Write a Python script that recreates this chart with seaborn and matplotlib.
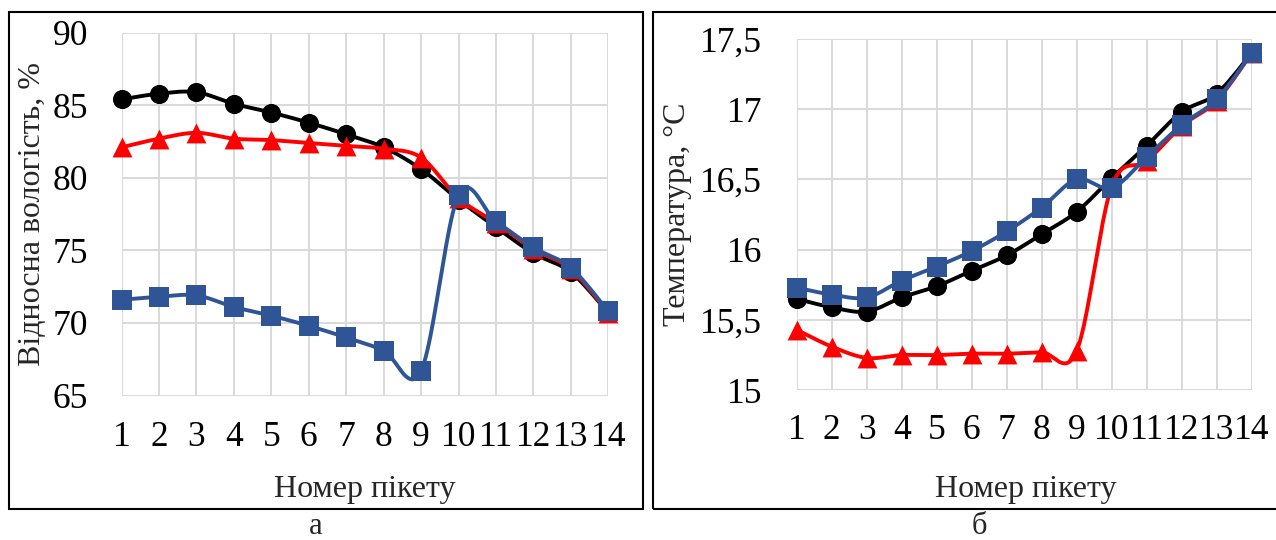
import numpy as np
import pandas as pd
import matplotlib
matplotlib.use("Agg")
import matplotlib.pyplot as plt
from matplotlib.patches import Rectangle
import seaborn as sns

# Picket numbers along the profile
pickets = list(range(1, 15))
x_ticklabels = [str(p) for p in pickets]

# Relative humidity, %
hum_black = [85.4, 85.8, 85.9, 85.1, 84.5, 83.8, 83.0, 82.1, 80.6, 78.5, 76.6, 74.8, 73.5, 70.7]
hum_red = [82.1, 82.7, 83.1, 82.7, 82.6, 82.4, 82.2, 82.0, 81.4, 78.6, 76.9, 75.1, 73.7, 70.7]
hum_blue = [71.6, 71.8, 71.9, 71.1, 70.5, 69.8, 69.0, 68.1, 66.7, 78.8, 77.0, 75.2, 73.8, 70.8]
hum_ticks = [65, 70, 75, 80, 85, 90]
hum_ticklabels = ["65", "70", "75", "80", "85", "90"]

# Temperature, °C
temp_black = [15.65, 15.59, 15.56, 15.66, 15.74, 15.85, 15.96, 16.11, 16.27, 16.51, 16.74, 16.98, 17.11, 17.40]
temp_red = [15.43, 15.31, 15.23, 15.25, 15.25, 15.26, 15.26, 15.27, 15.28, 16.45, 16.63, 16.88, 17.06, 17.40]
temp_blue = [15.73, 15.68, 15.66, 15.78, 15.88, 15.99, 16.13, 16.30, 16.50, 16.44, 16.66, 16.89, 17.07, 17.40]
temp_ticks = [15.0, 15.5, 16.0, 16.5, 17.0, 17.5]
temp_ticklabels = ["15", "15,5", "16", "16,5", "17", "17,5"]

BLACK = "#000000"
RED = "#FF0000"
BLUE = "#2F5597"
GRID = "#D9D9D9"

sns.set_theme(style="white")
plt.rcParams["font.family"] = ["Liberation Serif", "DejaVu Serif"]

W, H = 1276, 540
fig = plt.figure(figsize=(W / 100, H / 100), dpi=100)


def fx(px):
    return px / W


def fy(py):
    return 1 - py / H


def smooth(xs, ys, n=40):
    """Bezier smoothing through every point (Catmull-Rom style control points)."""
    P = np.column_stack([xs, ys]).astype(float)
    parts = []
    for i in range(len(P) - 1):
        p0 = P[i - 1] if i > 0 else P[i]
        p1, p2 = P[i], P[i + 1]
        p3 = P[i + 2] if i + 2 < len(P) else P[i + 1]
        c1 = p1 + (p2 - p0) / 6
        c2 = p2 - (p3 - p1) / 6
        t = np.linspace(0, 1, n, endpoint=(i == len(P) - 2))[:, None]
        seg = (1 - t) ** 3 * p1 + 3 * (1 - t) ** 2 * t * c1 + 3 * (1 - t) * t ** 2 * c2 + t ** 3 * p2
        parts.append(seg)
    return np.vstack(parts)


def draw_series(ax, ys, color, marker, size, z):
    curve = smooth(pickets, ys)
    df = pd.DataFrame({"x": curve[:, 0], "y": curve[:, 1]})
    sns.lineplot(data=df, x="x", y="y", sort=False, estimator=None, color=color,
                 lw=2.8, ax=ax, zorder=z)
    pts = pd.DataFrame({"x": pickets, "y": ys})
    sns.scatterplot(data=pts, x="x", y="y", marker=marker, s=size, color=color,
                    linewidth=0, ax=ax, zorder=z + 0.5, clip_on=False)


def style_axes(ax, yticks, yticklabels, ylim, xpad, ypad):
    ax.set_xlim(1, 14)
    ax.set_ylim(*ylim)
    ax.set_xticks(pickets)
    ax.set_xticklabels(x_ticklabels)
    ax.set_yticks(yticks)
    ax.set_yticklabels(yticklabels)
    ax.grid(True, color=GRID, lw=1.4)
    ax.set_axisbelow(True)
    for s in ax.spines.values():
        s.set_visible(False)
    ax.tick_params(axis="x", length=0, pad=xpad, labelsize=25.5, colors="black")
    ax.tick_params(axis="y", length=0, pad=ypad, labelsize=25.5, colors="black")
    ax.set_xlabel("")
    ax.set_ylabel("")
    ax.patch.set_alpha(0)


# Panel frames
for (x0, x1) in [(8.5, 643.3), (652.7, 1280)]:
    fig.patches.append(Rectangle((fx(x0), fy(509.3)), fx(x1) - fx(x0), fy(11.7) - fy(509.3),
                                 transform=fig.transFigure, fill=False, ec="black", lw=1.5))

# Panel a: relative humidity
axL = fig.add_axes([fx(121.5), fy(395.5), fx(608.3) - fx(121.5), fy(32.7) - fy(395.5)])
draw_series(axL, hum_black, BLACK, "o", 190, 3)
draw_series(axL, hum_red, RED, "^", 205, 5)
draw_series(axL, hum_blue, BLUE, "s", 205, 7)
style_axes(axL, hum_ticks, hum_ticklabels, (65, 90), xpad=18, ypad=24)

# Panel b: temperature
axR = fig.add_axes([fx(796.7), fy(390.2), fx(1251.7) - fx(796.7), fy(38.9) - fy(390.2)])
draw_series(axR, temp_black, BLACK, "o", 190, 3)
draw_series(axR, temp_red, RED, "^", 205, 5)
draw_series(axR, temp_blue, BLUE, "s", 205, 7)
style_axes(axR, temp_ticks, temp_ticklabels, (15, 17.5), xpad=17, ypad=25)

# Axis titles
fig.text(fx(33), fy(214), "Відносна вологість, %", rotation=90, ha="center", va="center", fontsize=23)
fig.text(fx(677), fy(214), "Температура, °С", rotation=90, ha="center", va="center", fontsize=23)
fig.text(fx(365), fy(490), "Номер пікету", ha="center", va="center", fontsize=23)
fig.text(fx(1026), fy(490), "Номер пікету", ha="center", va="center", fontsize=23)

# Panel letters
fig.text(fx(316), fy(534), "а", ha="center", va="baseline", fontsize=22)
fig.text(fx(979), fy(534), "б", ha="center", va="baseline", fontsize=22)

fig.savefig("out.png", dpi=100)
